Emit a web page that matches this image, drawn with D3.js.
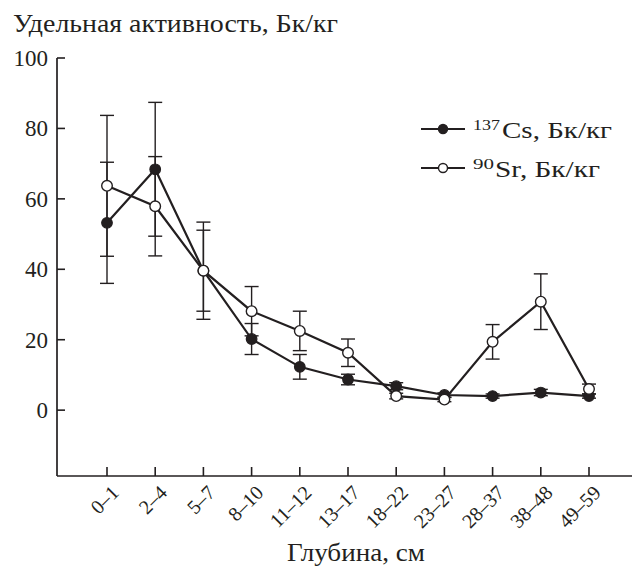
<!DOCTYPE html>
<html>
<head>
<meta charset="utf-8">
<script src="https://cdn.jsdelivr.net/npm/d3@7"></script>
<style>
  body { margin: 0; background: #fff; }
  svg text { font-family: "Liberation Serif", "DejaVu Serif", serif; fill: #231f20; }
</style>
</head>
<body>
<script>
// depth intervals, cm
var depths = ["0–1", "2–4", "5–7", "8–10", "11–12", "13–17", "18–22", "23–27", "28–37", "38–48", "49–59"];
// 137Cs, Bq/kg
var cs = [53.2, 68.4, 39.6, 20.2, 12.3, 8.7, 6.8, 4.3, 4.0, 5.0, 4.0];
var csErr = [17.2, 19.0, 13.8, 4.4, 3.5, 1.5, 1.0, 0.6, 0.6, 0.9, 0.6];
// 90Sr, Bq/kg
var sr = [63.7, 57.9, 39.6, 28.1, 22.5, 16.3, 4.0, 3.0, 19.4, 30.8, 6.0];
var srErr = [20.0, 14.1, 11.5, 7.0, 5.6, 3.9, 0.8, 0.6, 4.9, 7.9, 1.4];
var yTicks = [0, 20, 40, 60, 80, 100];

var ink = "#231f20";

var svg = d3.select('body').append('svg')
    .attr('width', 634)
    .attr('height', 568);

var x = d3.scalePoint()
    .domain(depths)
    .range([107, 589]);

var y = d3.scaleLinear()
    .domain([-18.7, 100])
    .range([476, 58]);

var x0 = 57, x1 = 632;

// axes lines
svg.append('line')
    .attr('x1', x0).attr('x2', x0)
    .attr('y1', y(100)).attr('y2', y(-18.7))
    .attr('stroke', ink).attr('stroke-width', 1.7);
svg.append('line')
    .attr('x1', x0).attr('x2', x1)
    .attr('y1', y(-18.7)).attr('y2', y(-18.7))
    .attr('stroke', ink).attr('stroke-width', 1.7);

// y ticks, inward
svg.selectAll('.ytick')
    .data(yTicks)
    .enter()
  .append('line')
    .attr('x1', x0).attr('x2', x0 + 8)
    .attr('y1', d => y(d)).attr('y2', d => y(d))
    .attr('stroke', ink).attr('stroke-width', 1.6);

svg.selectAll('.ylab')
    .data(yTicks)
    .enter()
  .append('text')
    .attr('x', 48)
    .attr('y', d => y(d) + 8)
    .attr('text-anchor', 'end')
    .attr('font-size', 23)
    .text(d => d);

// x ticks, inward
svg.selectAll('.xtick')
    .data(depths)
    .enter()
  .append('line')
    .attr('x1', d => x(d)).attr('x2', d => x(d))
    .attr('y1', y(-18.7)).attr('y2', y(-18.7) - 9)
    .attr('stroke', ink).attr('stroke-width', 1.6);

svg.selectAll('.xlab')
    .data(depths)
    .enter()
  .append('text')
    .attr('transform', d => 'translate(' + (x(d) + 13) + ',' + 494 + ') rotate(-45)')
    .attr('text-anchor', 'end')
    .attr('font-size', 20)
    .text(d => d);

// titles
svg.append('text')
    .attr('x', 13).attr('y', 32)
    .attr('font-size', 26)
    .attr('textLength', 325)
    .attr('lengthAdjust', 'spacingAndGlyphs')
    .text('Удельная активность, Бк/кг');

svg.append('text')
    .attr('x', 287).attr('y', 561)
    .attr('font-size', 26)
    .attr('textLength', 138)
    .attr('lengthAdjust', 'spacingAndGlyphs')
    .text('Глубина, см');

// error bars
function errorBars(vals, errs) {
    var g = svg.append('g').attr('stroke', ink).attr('stroke-width', 1.4);
    depths.forEach(function(d, i) {
        var cx = x(d), lo = y(vals[i] - errs[i]), hi = y(vals[i] + errs[i]);
        g.append('line').attr('x1', cx).attr('x2', cx).attr('y1', lo).attr('y2', hi);
        g.append('line').attr('x1', cx - 7).attr('x2', cx + 7).attr('y1', lo).attr('y2', lo);
        g.append('line').attr('x1', cx - 7).attr('x2', cx + 7).attr('y1', hi).attr('y2', hi);
    });
}
errorBars(cs, csErr);
errorBars(sr, srErr);

var line = d3.line()
    .x((d, i) => x(depths[i]))
    .y(d => y(d));

svg.append('path')
    .datum(cs)
    .attr('d', line)
    .attr('fill', 'none')
    .attr('stroke', ink)
    .attr('stroke-width', 2.2);

svg.append('path')
    .datum(sr)
    .attr('d', line)
    .attr('fill', 'none')
    .attr('stroke', ink)
    .attr('stroke-width', 2.2);

svg.selectAll('.cs')
    .data(cs)
    .enter()
  .append('circle')
    .attr('cx', (d, i) => x(depths[i]))
    .attr('cy', d => y(d))
    .attr('r', 5.3)
    .attr('fill', ink)
    .attr('stroke', ink)
    .attr('stroke-width', 1.2);

svg.selectAll('.sr')
    .data(sr)
    .enter()
  .append('circle')
    .attr('cx', (d, i) => x(depths[i]))
    .attr('cy', d => y(d))
    .attr('r', 5.3)
    .attr('fill', '#fff')
    .attr('stroke', ink)
    .attr('stroke-width', 1.4);

// legend
var legend = [
    { sup: '137', supLen: 27, name: 'Cs, Бк/кг', nameX: 502, nameLen: 110, fill: ink, y: 129 },
    { sup: '90', supLen: 21, name: 'Sr, Бк/кг', nameX: 495, nameLen: 105, fill: '#fff', y: 168 }
];
legend.forEach(function(l) {
    svg.append('line')
        .attr('x1', 421).attr('x2', 465)
        .attr('y1', l.y).attr('y2', l.y)
        .attr('stroke', ink).attr('stroke-width', 2.2);
    svg.append('circle')
        .attr('cx', 443).attr('cy', l.y)
        .attr('r', 4.5)
        .attr('fill', l.fill)
        .attr('stroke', ink)
        .attr('stroke-width', 1.4);
    svg.append('text')
        .attr('x', 473).attr('y', l.y + 1)
        .attr('font-size', 15)
        .attr('textLength', l.supLen)
        .attr('lengthAdjust', 'spacingAndGlyphs')
        .text(l.sup);
    svg.append('text')
        .attr('x', l.nameX).attr('y', l.y + 9)
        .attr('font-size', 23)
        .attr('textLength', l.nameLen)
        .attr('lengthAdjust', 'spacingAndGlyphs')
        .text(l.name);
});
</script>
</body>
</html>
